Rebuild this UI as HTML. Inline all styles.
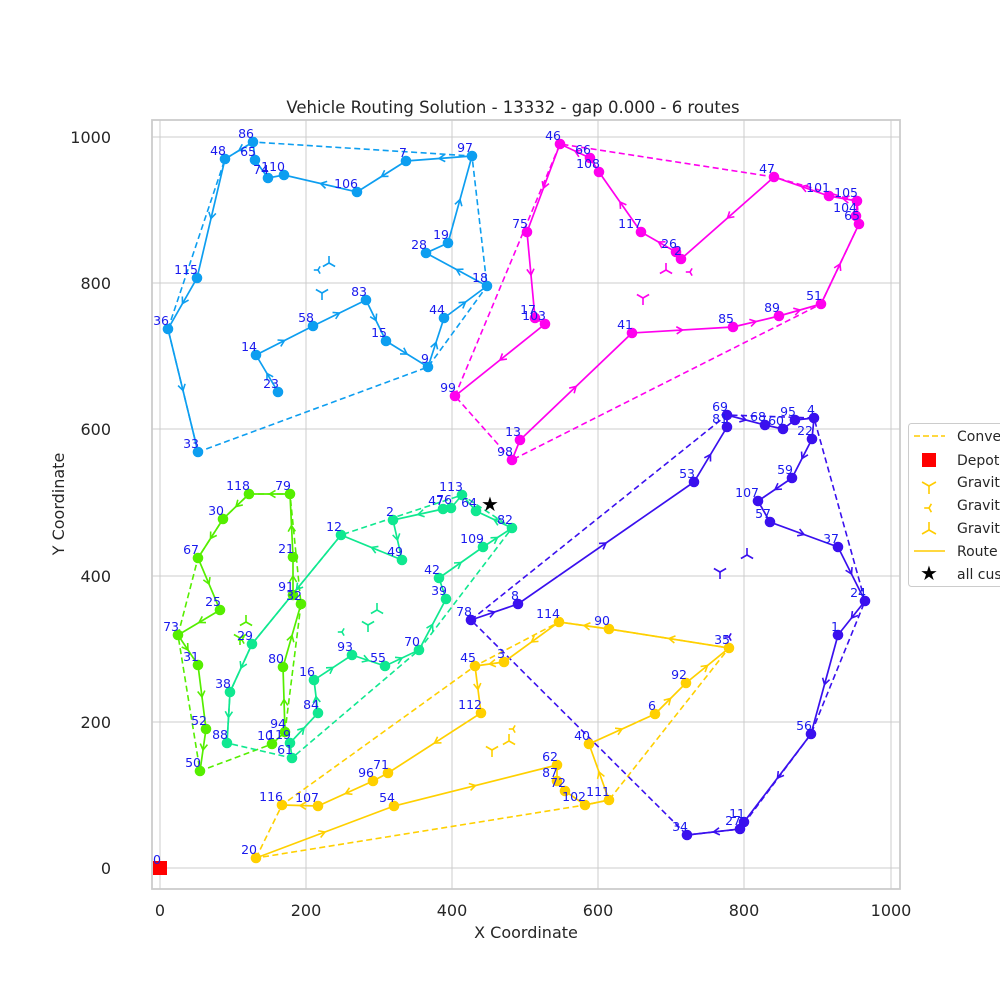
<!DOCTYPE html>
<html><head><meta charset="utf-8"><style>
html,body{margin:0;padding:0;background:#fff}
svg{display:block;font-family:"DejaVu Sans","Liberation Sans",sans-serif}
</style></head><body>
<svg id="s" width="1000" height="1000" xmlns="http://www.w3.org/2000/svg">
<rect x="0" y="0" width="1000" height="1000" fill="#fff"/>
<g id="grid" stroke="#cccccc" stroke-width="1">
<line x1="160" y1="120" x2="160" y2="889"/><line x1="306" y1="120" x2="306" y2="889"/><line x1="452" y1="120" x2="452" y2="889"/><line x1="598" y1="120" x2="598" y2="889"/><line x1="744" y1="120" x2="744" y2="889"/><line x1="891" y1="120" x2="891" y2="889"/>
<line x1="152" y1="868" x2="900" y2="868"/><line x1="152" y1="722" x2="900" y2="722"/><line x1="152" y1="576" x2="900" y2="576"/><line x1="152" y1="429" x2="900" y2="429"/><line x1="152" y1="283" x2="900" y2="283"/><line x1="152" y1="137" x2="900" y2="137"/>
</g>
<rect x="152" y="120" width="748" height="769" fill="none" stroke="#cccccc" stroke-width="1.8"/>
<g font-size="16" fill="#262626">
<g text-anchor="middle">
<text x="160" y="916">0</text><text x="306" y="916">200</text><text x="452" y="916">400</text><text x="598" y="916">600</text><text x="744" y="916">800</text><text x="891" y="916">1000</text>
</g>
<g text-anchor="end">
<text x="111" y="874">0</text><text x="111" y="728">200</text><text x="111" y="582">400</text><text x="111" y="435">600</text><text x="111" y="289">800</text><text x="111" y="143">1000</text>
</g>
<text x="526" y="938" text-anchor="middle" font-size="16">X Coordinate</text>
<text transform="translate(64,504) rotate(-90)" text-anchor="middle" font-size="16">Y Coordinate</text>
<text x="513" y="113" text-anchor="middle" font-size="16.5">Vehicle Routing Solution - 13332 - gap 0.000 - 6 routes</text>
</g>
<g id="data"></g>
<g id="legend">
<rect x="908.5" y="423.5" width="100" height="163" rx="3" fill="#fff" fill-opacity="0.85" stroke="#ccc"/>
<line x1="914" y1="436" x2="945" y2="436" stroke="#fc0" stroke-width="1.5" stroke-dasharray="6,3"/>
<rect x="922" y="453" width="14" height="14" fill="#f00"/>
<line x1="914" y1="551" x2="945" y2="551" stroke="#fc0" stroke-width="1.5"/>
<text x="929" y="580" text-anchor="middle" font-size="20" fill="#000">★</text>
<g font-size="14" fill="#262626">
<text x="957" y="441">Convex</text><text x="957" y="465">Depot</text><text x="957" y="487">Gravity</text><text x="957" y="510">Gravity</text><text x="957" y="533">Gravity</text><text x="957" y="556">Route</text><text x="957" y="579">all cust</text>
</g>
</g>
</svg>
<script>
var NS="http://www.w3.org/2000/svg",D=document.getElementById("data"),L=document.getElementById("legend");
function el(t,a,p){var e=document.createElementNS(NS,t);for(var k in a)e.setAttribute(k,a[k]);(p||D).appendChild(e);return e;}
var routes=[
{c:"#0d9ef0",p:[["23",278,392],["14",256,355],["58",313,326],["83",366,300],["15",386,341],["9",428,367],["44",444,318],["18",487,286],["28",426,253],["19",448,243],["97",472,156],["7",406,161],["106",357,192],["110",284,175],["74",268,178],["65",255,160],["86",253,142],["48",225,159],["115",197,278],["36",168,329],["33",198,452]],
 g:[[322,293,"d"],[318,270,"l"],[329,263,"u"]]},
{c:"#ff00ee",p:[["98",512,460],["13",520,440],["41",632,333],["85",733,327],["89",779,316],["51",821,304],["65",859,224],["104",856,216],["105",857,201],["101",829,196],["47",774,177],["2",681,259],["26",676,252],["117",641,232],["108",599,172],["66",590,158],["46",560,144],["75",527,232],["17",535,318],["103",545,324],["99",455,396]],
 g:[[643,298,"d"],[666,270,"u"],[690,272,"l"]]},
{c:"#3a10ee",p:[["78",471,620],["8",518,604],["53",694,482],["81",727,427],["69",727,415],["68",765,425],["60",783,429],["95",795,420],["4",814,418],["22",812,439],["59",792,478],["107",758,501],["57",770,522],["37",838,547],["24",865,601],["1",838,635],["56",811,734],["11",744,822],["27",740,829],["34",687,835]],
 g:[[720,572,"d"],[747,555,"u"],[729,637,"l"]]},
{c:"#55ee00",p:[["10",272,744],["94",285,732],["80",283,667],["32",301,604],["91",293,595],["21",293,557],["79",290,494],["118",249,494],["30",223,519],["67",198,558],["25",220,610],["73",178,635],["31",198,665],["52",206,729],["50",200,771]],
 g:[[240,638,"d"],[246,622,"u"],[242,640,"l"]]},
{c:"#10e890",p:[["61",292,758],["119",290,743],["84",318,713],["16",314,680],["93",352,655],["55",385,666],["70",419,650],["39",446,599],["42",439,578],["109",483,547],["82",512,528],["64",476,511],["113",462,495],["76",451,508],["47",443,509],["2",393,520],["49",402,560],["12",341,535],["29",252,644],["38",230,692],["88",227,743]],
 g:[[368,625,"d"],[377,610,"u"],[342,632,"l"]]},
{c:"#ffd000",p:[["20",256,858],["54",394,806],["62",557,765],["87",557,781],["72",565,791],["102",585,805],["111",609,800],["40",589,744],["6",655,714],["92",686,683],["35",729,648],["90",609,629],["114",559,622],["3",504,662],["45",475,666],["112",481,713],["71",388,773],["96",373,781],["107",318,806],["116",282,805]],
 g:[[492,750,"d"],[509,741,"u"],[513,729,"l"]]}
];
function hull(pts){var P=pts.map(function(p){return[p[1],p[2]];}).sort(function(a,b){return a[0]-b[0]||a[1]-b[1];});
function cr(o,a,b){return(a[0]-o[0])*(b[1]-o[1])-(a[1]-o[1])*(b[0]-o[0]);}
var lo=[],up=[];P.forEach(function(p){while(lo.length>=2&&cr(lo[lo.length-2],lo[lo.length-1],p)<=0)lo.pop();lo.push(p);});
for(var i=P.length-1;i>=0;i--){var p=P[i];while(up.length>=2&&cr(up[up.length-2],up[up.length-1],p)<=0)up.pop();up.push(p);}
up.pop();lo.pop();return lo.concat(up);}
function tri(x,y,t,c,s,par){s=s||7;var a;
if(t=="d")a=[[0,0,0,s],[0,0,-s*0.87,-s/2],[0,0,s*0.87,-s/2]];
else if(t=="u")a=[[0,0,0,-s],[0,0,-s*0.87,s/2],[0,0,s*0.87,s/2]];
else{s=s*0.6;a=[[0,0,-s,0],[0,0,s/2,-s*0.87],[0,0,s/2,s*0.87]];}
a.forEach(function(l){el("line",{x1:x+l[0],y1:y+l[1],x2:x+l[2],y2:y+l[3],stroke:c,"stroke-width":1.6},par);});}
routes.forEach(function(r){
 var h=hull(r.p);el("polygon",{points:h.map(function(p){return p.join(",");}).join(" "),fill:"none",stroke:r.c,"stroke-width":1.6,"stroke-dasharray":"6,3.5"});
 el("polyline",{points:r.p.map(function(p){return p[1]+","+p[2];}).join(" "),fill:"none",stroke:r.c,"stroke-width":1.7});
 for(var i=0;i<r.p.length-1;i++){var a=r.p[i],b=r.p[i+1],dx=b[1]-a[1],dy=b[2]-a[2],d=Math.hypot(dx,dy);if(d<25)continue;
  var ux=dx/d,uy=dy/d,mx=(a[1]+b[1])/2,my=(a[2]+b[2])/2,s=6;
  el("polyline",{points:(mx-ux*s-uy*s*0.6)+","+(my-uy*s+ux*s*0.6)+" "+mx+","+my+" "+(mx-ux*s+uy*s*0.6)+","+(my-uy*s-ux*s*0.6),fill:"none",stroke:r.c,"stroke-width":1.6});}
 r.g.forEach(function(g){tri(g[0],g[1],g[2],r.c);});
});
routes.forEach(function(r){r.p.forEach(function(p){el("circle",{cx:p[1],cy:p[2],r:5.3,fill:r.c});});});
routes.forEach(function(r){r.p.forEach(function(p){var t=el("text",{x:p[1]+1,y:p[2]-4,"text-anchor":"end","font-size":12.5,fill:"#1a1aee"});t.textContent=p[0];});});
el("rect",{x:153,y:861,width:14,height:14,fill:"#f00"});
var t=el("text",{x:161,y:864,"text-anchor":"end","font-size":12.5,fill:"#1a1aee"});t.textContent="0";
var st=el("text",{x:490,y:511,"text-anchor":"middle","font-size":20,fill:"#000"});st.textContent="★";
tri(929,486,"d","#fc0",8,L);tri(929,508,"l","#fc0",8,L);tri(929,530,"u","#fc0",8,L);
</script>
</body></html>
